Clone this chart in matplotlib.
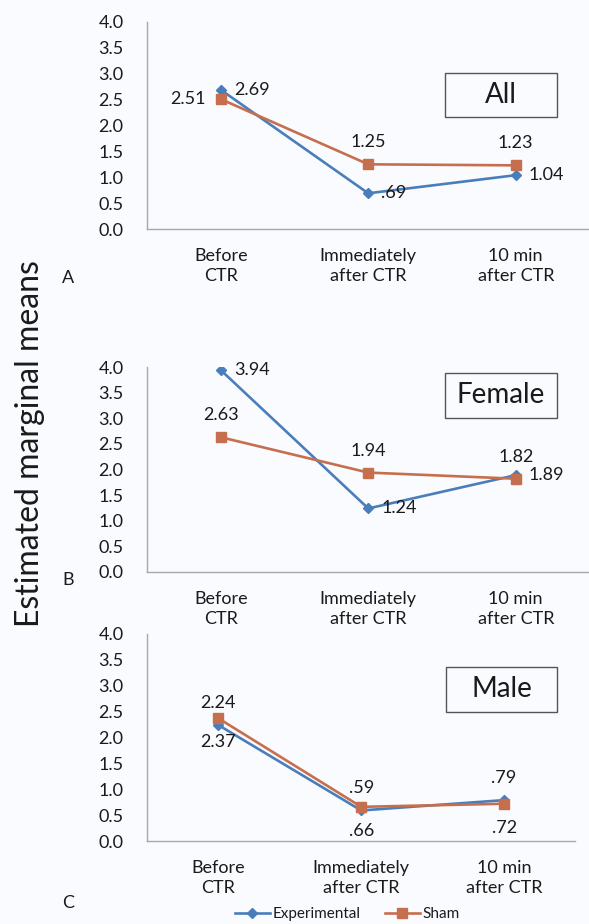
import matplotlib
matplotlib.use("Agg")
import matplotlib.pyplot as plt
from matplotlib.patches import Rectangle
from matplotlib.lines import Line2D

plt.rcParams['font.family'] = ['Lato', 'DejaVu Sans']

W, H = 589, 924

categories = ["Before\nCTR", "Immediately\nafter CTR", "10 min\nafter CTR"]
yticks = [0.0, 0.5, 1.0, 1.5, 2.0, 2.5, 3.0, 3.5, 4.0]

# panel A - All
all_exp = [2.69, 0.69, 1.04]
all_sham = [2.51, 1.25, 1.23]
# panel B - Female
fem_exp = [3.94, 1.24, 1.89]
fem_sham = [2.63, 1.94, 1.82]
# panel C - Male
male_exp = [2.24, 0.59, 0.79]
male_sham = [2.37, 0.66, 0.72]

all_exp_lbl = ["2.69", ".69", "1.04"]
all_sham_lbl = ["2.51", "1.25", "1.23"]
fem_exp_lbl = ["3.94", "1.24", "1.89"]
fem_sham_lbl = ["2.63", "1.94", "1.82"]
male_exp_lbl = ["2.24", ".59", ".79"]
male_sham_lbl = ["2.37", ".66", ".72"]

BLUE = '#4A7EBB'
ORANGE = '#C66F4F'
TXT = '#1A1A1A'
BG = '#FAFBFE'

fig = plt.figure(figsize=(W / 100, H / 100), dpi=100, facecolor=BG)


def px_axes(left, top, right, bottom):
    return fig.add_axes([left / W, 1 - bottom / H, (right - left) / W, (bottom - top) / H])


# offsets in pixels (dx, dy) and alignment per label
R = (13, 0, 'left', 'center')
L = (-15, 0, 'right', 'center')
UP = (0, 22, 'center', 'center')
DN = (0, -24, 'center', 'center')


def panel(ax, exp, sham, exp_lbl, sham_lbl, exp_pos, sham_pos, title, box):
    x = list(range(len(categories)))
    ax.set_facecolor(BG)
    ax.plot(x, exp, color=BLUE, lw=1.9, marker='D', ms=5.5, zorder=3)
    ax.plot(x, sham, color=ORANGE, lw=1.9, marker='s', ms=7, zorder=4)
    for xi, v, t, p in zip(x, exp, exp_lbl, exp_pos):
        ax.annotate(t, (xi, v), xytext=(p[0] * 0.72, p[1] * 0.72), textcoords='offset points',
                    ha=p[2], va=p[3], fontsize=13, color=TXT)
    for xi, v, t, p in zip(x, sham, sham_lbl, sham_pos):
        ax.annotate(t, (xi, v), xytext=(p[0] * 0.72, p[1] * 0.72), textcoords='offset points',
                    ha=p[2], va=p[3], fontsize=13, color=TXT)
    ax.set_xlim(-0.5, 2.5)
    ax.set_ylim(0, 4)
    ax.set_xticks(x)
    ax.set_xticklabels(categories, linespacing=1.25)
    ax.set_yticks(yticks)
    ax.set_yticklabels([f"{v:.1f}" for v in yticks])
    ax.tick_params(axis='both', length=0, labelsize=13, colors=TXT)
    ax.tick_params(axis='y', pad=17)
    ax.tick_params(axis='x', pad=14)
    for s in ['top', 'right']:
        ax.spines[s].set_visible(False)
    for s in ['left', 'bottom']:
        ax.spines[s].set_color('#A8A8A8')
        ax.spines[s].set_linewidth(1.0)
    x0, y0, x1, y1 = box
    ax.add_patch(Rectangle((x0, y0), x1 - x0, y1 - y0, transform=ax.transAxes,
                           fill=False, ec='#555555', lw=1.0, clip_on=False))
    ax.text((x0 + x1) / 2, (y0 + y1) / 2, title, transform=ax.transAxes,
            ha='center', va='center', fontsize=20, color=TXT)


axA = px_axes(147, 22, 589.5, 229)
panel(axA, all_exp, all_sham, all_exp_lbl, all_sham_lbl,
      [R, R, R], [L, UP, UP], "All", (0.673, 0.541, 0.927, 0.754))

axB = px_axes(147, 367, 589.5, 572)
panel(axB, fem_exp, fem_sham, fem_exp_lbl, fem_sham_lbl,
      [R, R, R], [UP, UP, UP], "Female", (0.673, 0.751, 0.927, 0.971))

axC = px_axes(147, 634, 575.5, 841)
panel(axC, male_exp, male_sham, male_exp_lbl, male_sham_lbl,
      [UP, UP, UP], [DN, DN, DN], "Male", (0.698, 0.623, 0.957, 0.841))

fig.text(68 / W, 1 - 278 / H, "A", fontsize=13, color=TXT, ha='center', va='center')
fig.text(68 / W, 1 - 580 / H, "B", fontsize=13, color=TXT, ha='center', va='center')
fig.text(68 / W, 1 - 903 / H, "C", fontsize=13, color=TXT, ha='center', va='center')

fig.text(30 / W, 1 - 444 / H, "Estimated marginal means", rotation=90,
         fontsize=23, color=TXT, ha='center', va='center')

handles = [Line2D([], [], color=BLUE, lw=1.9, marker='D', ms=5),
           Line2D([], [], color=ORANGE, lw=1.9, marker='s', ms=6.5)]
fig.legend(handles, ["Experimental", "Sham"], loc='center', ncol=2,
           bbox_to_anchor=(347 / W, 1 - 914 / H), frameon=False, fontsize=11,
           handlelength=2.3, handletextpad=0.15, columnspacing=1.6,
           labelcolor=TXT, borderpad=0.1)

fig.savefig("out.png", dpi=100, facecolor=BG)
